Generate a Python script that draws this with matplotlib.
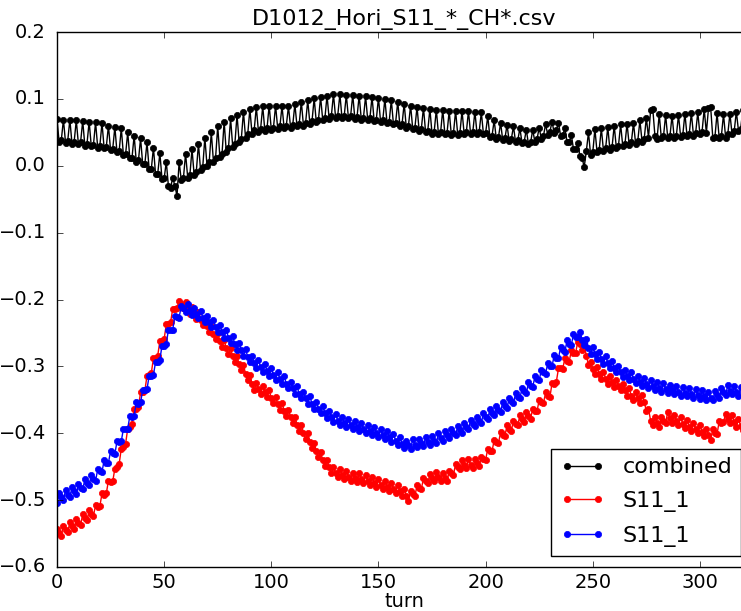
import numpy as np
import matplotlib
matplotlib.use("Agg")
import matplotlib.pyplot as plt

plt.style.use("classic")
plt.rcParams["font.size"] = 14
plt.rcParams["figure.facecolor"] = "white"
plt.rcParams["savefig.facecolor"] = "white"

title = "D1012_Hori_S11_*_CH*.csv"
xlabel = "turn"
labels = ["combined", "S11_1", "S11_1"]
colors = ["black", "red", "blue"]
xticks = [0, 50, 100, 150, 200, 250, 300]
yticks = [-0.6, -0.5, -0.4, -0.3, -0.2, -0.1, 0.0, 0.1, 0.2]

combined = [
    0.070, 0.035, 0.038, 0.069, 0.034, 0.037, 0.069, 0.033, 0.036, 0.068,
    0.032, 0.035, 0.067, 0.030, 0.033, 0.066, 0.029, 0.031, 0.065, 0.027,
    0.030, 0.064, 0.026, 0.028, 0.060, 0.023, 0.025, 0.058, 0.020, 0.022,
    0.056, 0.016, 0.017, 0.050, 0.011, 0.012, 0.045, 0.006, 0.008, 0.041,
    0.002, 0.003, 0.035, -0.005, -0.005, 0.027, -0.013, -0.012, 0.019, -0.020,
    -0.019, 0.006, -0.031, -0.033, -0.018, -0.030, -0.045, 0.006, -0.022, -0.018,
    0.018, -0.018, -0.014, 0.025, -0.014, -0.009, 0.033, -0.007, -0.002, 0.042,
    0.000, 0.005, 0.050, 0.006, 0.012, 0.059, 0.013, 0.018, 0.066, 0.020,
    0.026, 0.071, 0.028, 0.033, 0.076, 0.035, 0.040, 0.081, 0.041, 0.047,
    0.085, 0.048, 0.053, 0.088, 0.051, 0.055, 0.089, 0.052, 0.056, 0.090,
    0.054, 0.057, 0.090, 0.055, 0.059, 0.089, 0.056, 0.060, 0.089, 0.057,
    0.061, 0.092, 0.059, 0.062, 0.096, 0.060, 0.064, 0.098, 0.063, 0.067,
    0.101, 0.065, 0.069, 0.103, 0.068, 0.071, 0.105, 0.070, 0.074, 0.107,
    0.072, 0.075, 0.107, 0.071, 0.074, 0.106, 0.071, 0.074, 0.106, 0.070,
    0.073, 0.105, 0.069, 0.072, 0.104, 0.068, 0.071, 0.103, 0.067, 0.069,
    0.102, 0.065, 0.068, 0.100, 0.064, 0.066, 0.098, 0.062, 0.064, 0.096,
    0.060, 0.062, 0.093, 0.057, 0.060, 0.090, 0.055, 0.057, 0.088, 0.052,
    0.055, 0.087, 0.050, 0.052, 0.085, 0.048, 0.051, 0.084, 0.047, 0.050,
    0.084, 0.047, 0.049, 0.082, 0.046, 0.049, 0.082, 0.046, 0.049, 0.082,
    0.047, 0.050, 0.082, 0.047, 0.050, 0.081, 0.048, 0.051, 0.080, 0.047,
    0.049, 0.074, 0.043, 0.045, 0.068, 0.040, 0.043, 0.064, 0.038, 0.041,
    0.061, 0.037, 0.040, 0.059, 0.035, 0.038, 0.056, 0.034, 0.036, 0.054,
    0.032, 0.035, 0.054, 0.035, 0.040, 0.057, 0.040, 0.045, 0.062, 0.046,
    0.051, 0.066, 0.049, 0.053, 0.064, 0.045, 0.046, 0.056, 0.036, 0.035,
    0.046, 0.025, 0.025, 0.034, 0.015, 0.012, -0.002, 0.022, 0.050, 0.016,
    0.020, 0.055, 0.020, 0.024, 0.056, 0.022, 0.026, 0.058, 0.024, 0.028,
    0.060, 0.027, 0.030, 0.062, 0.029, 0.032, 0.063, 0.031, 0.035, 0.064,
    0.033, 0.037, 0.068, 0.036, 0.040, 0.072, 0.042, 0.083, 0.085, 0.045,
    0.040, 0.077, 0.041, 0.044, 0.076, 0.041, 0.044, 0.075, 0.042, 0.045,
    0.076, 0.043, 0.046, 0.078, 0.044, 0.047, 0.079, 0.045, 0.049, 0.080,
    0.047, 0.051, 0.085, 0.049, 0.086, 0.088, 0.042, 0.043, 0.079, 0.041,
    0.044, 0.077, 0.042, 0.047, 0.078, 0.047, 0.052, 0.081, 0.052, 0.055,
    0.083, 0.053, 0.056, 0.084, 0.054, 0.057,
]

s11_red = [
    -0.543, -0.549, -0.553, -0.538, -0.544, -0.548, -0.533, -0.539, -0.543, -0.528,
    -0.534, -0.537, -0.521, -0.527, -0.530, -0.515, -0.520, -0.523, -0.508, -0.510,
    -0.509, -0.490, -0.492, -0.490, -0.471, -0.473, -0.472, -0.453, -0.451, -0.446,
    -0.423, -0.421, -0.416, -0.393, -0.391, -0.386, -0.363, -0.363, -0.360, -0.339,
    -0.339, -0.336, -0.314, -0.313, -0.310, -0.288, -0.287, -0.284, -0.262, -0.262,
    -0.259, -0.237, -0.237, -0.234, -0.214, -0.214, -0.212, -0.202, -0.206, -0.213,
    -0.203, -0.213, -0.221, -0.211, -0.222, -0.229, -0.219, -0.230, -0.238, -0.229,
    -0.240, -0.249, -0.239, -0.251, -0.259, -0.250, -0.262, -0.271, -0.261, -0.273,
    -0.282, -0.273, -0.285, -0.294, -0.285, -0.297, -0.306, -0.298, -0.311, -0.321,
    -0.313, -0.326, -0.336, -0.325, -0.334, -0.341, -0.330, -0.339, -0.346, -0.336,
    -0.347, -0.355, -0.346, -0.357, -0.365, -0.355, -0.366, -0.374, -0.365, -0.376,
    -0.384, -0.375, -0.387, -0.396, -0.387, -0.399, -0.409, -0.400, -0.413, -0.422,
    -0.414, -0.427, -0.436, -0.428, -0.440, -0.449, -0.440, -0.451, -0.460, -0.451,
    -0.460, -0.466, -0.454, -0.463, -0.468, -0.456, -0.465, -0.471, -0.459, -0.467,
    -0.473, -0.460, -0.469, -0.475, -0.462, -0.471, -0.477, -0.465, -0.474, -0.480,
    -0.468, -0.477, -0.483, -0.471, -0.480, -0.486, -0.474, -0.483, -0.489, -0.477,
    -0.486, -0.494, -0.483, -0.494, -0.501, -0.486, -0.491, -0.494, -0.478, -0.482,
    -0.484, -0.467, -0.471, -0.475, -0.461, -0.467, -0.471, -0.458, -0.466, -0.472,
    -0.459, -0.467, -0.472, -0.456, -0.460, -0.462, -0.446, -0.451, -0.453, -0.440,
    -0.448, -0.452, -0.439, -0.447, -0.452, -0.438, -0.445, -0.449, -0.435, -0.439,
    -0.440, -0.423, -0.427, -0.427, -0.410, -0.413, -0.415, -0.398, -0.403, -0.404,
    -0.388, -0.393, -0.396, -0.381, -0.386, -0.388, -0.373, -0.379, -0.383, -0.368,
    -0.374, -0.378, -0.363, -0.367, -0.367, -0.350, -0.353, -0.355, -0.339, -0.344,
    -0.346, -0.325, -0.326, -0.323, -0.303, -0.303, -0.304, -0.287, -0.292, -0.293,
    -0.276, -0.280, -0.280, -0.263, -0.267, -0.276, -0.268, -0.284, -0.298, -0.293,
    -0.304, -0.311, -0.301, -0.311, -0.319, -0.308, -0.319, -0.326, -0.315, -0.324,
    -0.331, -0.320, -0.329, -0.336, -0.326, -0.336, -0.344, -0.333, -0.344, -0.351,
    -0.339, -0.348, -0.355, -0.343, -0.353, -0.367, -0.364, -0.381, -0.387, -0.376,
    -0.385, -0.391, -0.376, -0.381, -0.384, -0.368, -0.377, -0.385, -0.373, -0.382,
    -0.388, -0.376, -0.386, -0.392, -0.380, -0.390, -0.396, -0.384, -0.394, -0.400,
    -0.388, -0.398, -0.404, -0.393, -0.403, -0.410, -0.394, -0.399, -0.401, -0.382,
    -0.384, -0.383, -0.371, -0.379, -0.385, -0.373, -0.383, -0.390, -0.379, -0.389,
    -0.395, -0.383, -0.391, -0.397, -0.385, -0.392,
]

s11_blue = [
    -0.504, -0.490, -0.496, -0.500, -0.485, -0.492, -0.495, -0.481, -0.487, -0.491,
    -0.476, -0.482, -0.484, -0.469, -0.475, -0.478, -0.462, -0.468, -0.471, -0.454,
    -0.457, -0.458, -0.440, -0.444, -0.444, -0.427, -0.430, -0.431, -0.412, -0.413,
    -0.412, -0.393, -0.394, -0.393, -0.374, -0.375, -0.374, -0.354, -0.356, -0.354,
    -0.335, -0.336, -0.334, -0.314, -0.315, -0.313, -0.293, -0.293, -0.290, -0.269,
    -0.269, -0.266, -0.245, -0.246, -0.245, -0.225, -0.226, -0.227, -0.209, -0.213,
    -0.219, -0.207, -0.216, -0.223, -0.212, -0.222, -0.228, -0.217, -0.227, -0.234,
    -0.224, -0.234, -0.241, -0.231, -0.241, -0.249, -0.238, -0.249, -0.257, -0.246,
    -0.257, -0.265, -0.255, -0.267, -0.275, -0.265, -0.276, -0.284, -0.274, -0.286,
    -0.294, -0.284, -0.295, -0.302, -0.291, -0.301, -0.308, -0.297, -0.307, -0.314,
    -0.303, -0.313, -0.320, -0.309, -0.319, -0.326, -0.315, -0.326, -0.333, -0.323,
    -0.333, -0.341, -0.330, -0.341, -0.348, -0.338, -0.348, -0.356, -0.345, -0.356,
    -0.363, -0.353, -0.363, -0.370, -0.359, -0.370, -0.377, -0.366, -0.376, -0.383,
    -0.371, -0.381, -0.387, -0.375, -0.384, -0.391, -0.379, -0.388, -0.394, -0.382,
    -0.391, -0.397, -0.385, -0.394, -0.400, -0.388, -0.397, -0.403, -0.391, -0.400,
    -0.406, -0.394, -0.403, -0.409, -0.397, -0.406, -0.413, -0.401, -0.411, -0.418,
    -0.406, -0.416, -0.422, -0.411, -0.418, -0.423, -0.409, -0.417, -0.421, -0.408,
    -0.415, -0.419, -0.406, -0.413, -0.417, -0.404, -0.411, -0.415, -0.400, -0.407,
    -0.411, -0.397, -0.403, -0.407, -0.393, -0.400, -0.403, -0.389, -0.395, -0.399,
    -0.384, -0.391, -0.394, -0.380, -0.386, -0.389, -0.375, -0.381, -0.384, -0.370,
    -0.376, -0.379, -0.364, -0.370, -0.373, -0.359, -0.365, -0.368, -0.353, -0.359,
    -0.362, -0.347, -0.352, -0.355, -0.340, -0.346, -0.348, -0.332, -0.337, -0.340,
    -0.324, -0.329, -0.331, -0.315, -0.319, -0.321, -0.305, -0.309, -0.311, -0.295,
    -0.299, -0.300, -0.283, -0.287, -0.288, -0.271, -0.276, -0.278, -0.261, -0.266,
    -0.268, -0.252, -0.256, -0.256, -0.248, -0.260, -0.268, -0.259, -0.272, -0.281,
    -0.271, -0.281, -0.289, -0.278, -0.289, -0.296, -0.285, -0.295, -0.303, -0.292,
    -0.302, -0.309, -0.299, -0.309, -0.316, -0.305, -0.314, -0.321, -0.309, -0.319,
    -0.325, -0.314, -0.323, -0.329, -0.317, -0.326, -0.332, -0.320, -0.329, -0.335,
    -0.323, -0.332, -0.338, -0.325, -0.334, -0.340, -0.328, -0.336, -0.342, -0.330,
    -0.338, -0.344, -0.331, -0.340, -0.345, -0.333, -0.341, -0.347, -0.334, -0.343,
    -0.349, -0.336, -0.345, -0.351, -0.338, -0.347, -0.351, -0.337, -0.343, -0.347,
    -0.333, -0.339, -0.343, -0.328, -0.337, -0.342, -0.330, -0.338, -0.344, -0.331,
    -0.339, -0.344, -0.331, -0.339, -0.345, -0.332,
]

turns = np.arange(len(combined))

fig = plt.figure(figsize=(7.41, 6.11), dpi=100)
ax = fig.add_axes([57 / 741, 44 / 611, (752 - 57) / 741, 535 / 611])

for series, lab, col in zip([combined, s11_red, s11_blue], labels, colors):
    ax.plot(turns, series, ".-", color=col, mec=col, mfc=col,
            markersize=9, linewidth=1.0, label=lab)

ax.set_xlim(0, 324.3)
ax.set_ylim(-0.6, 0.2)
ax.set_xticks(xticks)
ax.set_yticks(yticks)
ax.tick_params(axis="y", pad=8)
ax.tick_params(axis="x", pad=4)
ax.set_title(title, fontsize=16)
ax.set_xlabel(xlabel, labelpad=0, fontsize=14)
leg = ax.legend(loc="lower right", numpoints=2, fontsize=16,
                labelspacing=0.62, borderaxespad=0.5)
leg.get_frame().set_linewidth(1.0)

fig.savefig("out.png", dpi=100)
